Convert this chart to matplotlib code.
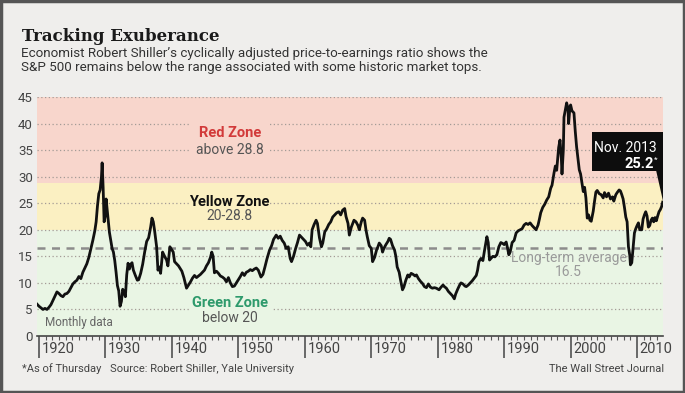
import numpy as np
import matplotlib
matplotlib.use('Agg')
import matplotlib.pyplot as plt
from matplotlib.patches import Rectangle, Polygon
from matplotlib.transforms import ScaledTranslation

plt.rcParams['font.family'] = ['Roboto', 'DejaVu Sans']

# Shiller CAPE (year, ratio)
years = [
    1919.7, 1920.0, 1920.3, 1920.6, 1920.9, 1921.2, 1921.5, 1921.8, 1922.1, 1922.4,
    1922.7, 1923.0, 1923.3, 1923.6, 1923.9, 1924.2, 1924.5, 1924.8, 1925.1, 1925.4,
    1925.7, 1926.0, 1926.3, 1926.6, 1926.9, 1927.2, 1927.5, 1927.8, 1928.1, 1928.4,
    1928.6, 1928.8, 1929.0, 1929.2, 1929.4, 1929.5, 1929.65, 1929.8, 1929.95, 1930.1,
    1930.25, 1930.4, 1930.6, 1930.8, 1931.0, 1931.2, 1931.4, 1931.6, 1931.8, 1932.0,
    1932.2, 1932.4, 1932.6, 1932.8, 1933.0, 1933.2, 1933.4, 1933.6, 1933.8, 1934.0,
    1934.2, 1934.5, 1934.8, 1935.0, 1935.3, 1935.6, 1935.9, 1936.2, 1936.5, 1936.8,
    1937.0, 1937.2, 1937.4, 1937.7, 1937.9, 1938.1, 1938.3, 1938.6, 1938.9, 1939.2,
    1939.4, 1939.7, 1940.0, 1940.2, 1940.4, 1940.7, 1941.0, 1941.2, 1941.5, 1941.8,
    1942.0, 1942.2, 1942.5, 1942.8, 1943.1, 1943.4, 1943.7, 1944.0, 1944.3, 1944.6,
    1944.9, 1945.2, 1945.5, 1945.8, 1946.0, 1946.2, 1946.4, 1946.7, 1947.0, 1947.3,
    1947.6, 1947.9, 1948.2, 1948.5, 1948.8, 1949.1, 1949.4, 1949.7, 1950.0, 1950.3,
    1950.6, 1950.9, 1951.2, 1951.5, 1951.8, 1952.1, 1952.4, 1952.7, 1953.0, 1953.4,
    1953.7, 1954.0, 1954.3, 1954.7, 1955.0, 1955.3, 1955.7, 1956.0, 1956.3, 1956.6,
    1956.9, 1957.2, 1957.5, 1957.8, 1958.0, 1958.3, 1958.6, 1958.9, 1959.2, 1959.5,
    1959.8, 1960.1, 1960.4, 1960.7, 1960.9, 1961.1, 1961.4, 1961.7, 1961.9, 1962.2,
    1962.5, 1962.7, 1963.0, 1963.3, 1963.6, 1963.9, 1964.2, 1964.5, 1964.8, 1965.1,
    1965.4, 1965.7, 1966.0, 1966.2, 1966.5, 1966.7, 1967.0, 1967.4, 1967.7, 1968.0,
    1968.2, 1968.5, 1968.7, 1969.0, 1969.2, 1969.4, 1969.7, 1970.0, 1970.2, 1970.5,
    1970.8, 1971.0, 1971.2, 1971.5, 1971.7, 1971.9, 1972.2, 1972.5, 1972.7, 1972.9,
    1973.2, 1973.5, 1973.7, 1973.9, 1974.2, 1974.4, 1974.7, 1974.9, 1975.2, 1975.5,
    1975.7, 1976.0, 1976.3, 1976.6, 1976.8, 1977.1, 1977.4, 1977.7, 1978.0, 1978.3,
    1978.6, 1978.9, 1979.2, 1979.5, 1979.8, 1980.2, 1980.5, 1980.8, 1981.0, 1981.3,
    1981.6, 1981.9, 1982.2, 1982.5, 1982.7, 1983.0, 1983.3, 1983.5, 1983.8, 1984.1,
    1984.3, 1984.6, 1984.9, 1985.2, 1985.5, 1985.8, 1986.0, 1986.2, 1986.5, 1986.8,
    1987.0, 1987.2, 1987.4, 1987.6, 1987.8, 1988.0, 1988.3, 1988.6, 1988.9, 1989.2,
    1989.5, 1989.8, 1990.0, 1990.3, 1990.5, 1990.7, 1990.9, 1991.2, 1991.5, 1991.8,
    1992.1, 1992.4, 1992.7, 1993.0, 1993.3, 1993.6, 1993.9, 1994.2, 1994.5, 1994.8,
    1995.1, 1995.3, 1995.5, 1995.8, 1996.1, 1996.4, 1996.7, 1997.0, 1997.2, 1997.5,
    1997.7, 1997.9, 1998.2, 1998.4, 1998.6, 1998.7, 1998.9, 1999.0, 1999.2, 1999.4,
    1999.6, 1999.7, 1999.9, 2000.0, 2000.2, 2000.5, 2000.7, 2000.9, 2001.1, 2001.3,
    2001.5, 2001.7, 2001.9, 2002.1, 2002.3, 2002.5, 2002.7, 2002.9, 2003.1, 2003.4,
    2003.6, 2003.8, 2004.0, 2004.3, 2004.6, 2004.9, 2005.1, 2005.4, 2005.7, 2006.0,
    2006.3, 2006.5, 2006.8, 2007.0, 2007.3, 2007.5, 2007.7, 2007.9, 2008.1, 2008.3,
    2008.5, 2008.7, 2008.9, 2009.0, 2009.2, 2009.4, 2009.6, 2009.8, 2010.0, 2010.2,
    2010.4, 2010.7, 2010.9, 2011.1, 2011.3, 2011.5, 2011.7, 2011.9, 2012.1, 2012.3,
    2012.5, 2012.7, 2012.9, 2013.1, 2013.3, 2013.5, 2013.7, 2013.85,
]
cape = [
    6.0, 5.6, 5.3, 5.0, 5.2, 5.0, 5.4, 5.9, 6.7, 7.5,
    8.3, 8.0, 7.6, 7.4, 7.9, 8.0, 8.4, 9.1, 9.8, 10.2,
    10.5, 11.2, 10.8, 12.0, 12.8, 13.6, 14.8, 16.4, 18.0, 19.8,
    21.5, 24.5, 26.8, 27.5, 30.0, 32.6, 28.0, 21.5, 22.5, 25.8,
    24.0, 22.0, 19.5, 18.0, 16.5, 15.8, 14.2, 12.0, 9.5, 8.5,
    5.6, 6.5, 8.8, 8.2, 7.4, 11.5, 13.7, 12.6, 13.5, 13.8,
    12.4, 11.4, 10.5, 10.6, 11.8, 13.5, 15.8, 17.8, 18.5, 20.5,
    22.2, 21.5, 19.8, 16.8, 12.4, 13.0, 11.8, 15.8, 15.0, 14.3,
    13.2, 16.8, 16.2, 15.8, 14.0, 13.6, 13.2, 12.8, 12.2, 11.0,
    10.0, 9.0, 9.6, 10.2, 10.9, 11.4, 11.0, 11.3, 11.6, 12.0,
    12.4, 13.2, 13.8, 14.8, 15.8, 15.0, 11.9, 12.2, 11.8, 11.3,
    11.1, 10.8, 10.2, 11.0, 10.0, 9.3, 9.4, 10.0, 10.6, 11.2,
    11.9, 11.4, 12.0, 12.2, 12.5, 12.3, 12.6, 12.8, 12.4, 11.1,
    11.6, 13.0, 14.5, 16.2, 17.0, 18.2, 19.0, 18.4, 18.8, 18.0,
    17.5, 16.5, 16.8, 14.6, 14.0, 15.0, 16.4, 17.6, 19.0, 18.6,
    18.2, 17.8, 17.1, 17.5, 16.8, 20.0, 21.0, 21.8, 21.2, 18.5,
    16.8, 17.5, 19.6, 20.2, 21.0, 21.5, 22.4, 22.8, 23.2, 23.4,
    22.8, 23.7, 24.0, 22.5, 21.2, 19.0, 20.5, 21.8, 21.5, 20.8,
    20.0, 21.5, 22.2, 21.8, 20.0, 18.7, 17.0, 16.5, 14.0, 14.8,
    16.2, 16.8, 17.5, 17.0, 15.8, 16.5, 17.2, 17.8, 18.4, 18.2,
    17.0, 16.2, 15.0, 13.0, 12.0, 10.6, 8.7, 9.2, 10.5, 11.5,
    11.1, 11.8, 11.6, 11.3, 11.5, 10.8, 10.3, 9.9, 9.3, 9.1,
    9.8, 9.2, 9.0, 9.1, 9.0, 8.7, 9.2, 9.6, 9.3, 9.0,
    8.4, 8.0, 7.6, 7.0, 7.9, 8.8, 9.6, 10.0, 9.8, 9.4,
    9.3, 9.6, 10.0, 10.4, 10.9, 11.4, 12.4, 14.0, 14.6, 14.2,
    15.8, 17.2, 18.7, 17.6, 14.3, 14.6, 15.0, 14.9, 15.3, 16.8,
    17.6, 17.4, 17.2, 17.7, 16.6, 15.3, 15.8, 17.6, 18.0, 19.4,
    19.8, 20.0, 20.2, 20.9, 21.2, 21.0, 21.3, 20.8, 20.4, 20.0,
    20.9, 22.0, 23.2, 24.2, 24.8, 25.6, 26.2, 27.8, 28.4, 30.7,
    32.0, 31.2, 35.5, 36.9, 33.5, 30.5, 35.0, 41.2, 42.5, 43.9,
    42.8, 40.0, 43.2, 43.5, 42.4, 42.0, 38.5, 35.6, 33.5, 31.3,
    30.5, 28.8, 27.2, 28.0, 26.0, 22.2, 22.8, 21.8, 21.6, 23.5,
    25.4, 27.1, 27.4, 26.8, 26.6, 26.0, 27.0, 26.2, 26.9, 25.8,
    26.2, 25.4, 26.6, 27.0, 27.5, 27.3, 26.6, 25.8, 24.2, 22.4,
    21.5, 16.8, 15.2, 13.4, 13.8, 16.5, 19.4, 20.2, 20.8, 21.3,
    20.0, 20.0, 22.0, 22.8, 23.4, 22.6, 20.5, 20.8, 21.8, 22.2,
    21.5, 22.3, 21.7, 22.6, 23.4, 23.8, 24.4, 25.2,
]

zones = [(0, 20, '#e9f5e4'), (20, 28.8, '#fbf0c2'), (28.8, 45, '#f8d6cc')]
grid_levels = [5, 10, 15, 20, 25, 30, 35, 40, 45]
long_term_avg = 16.5
decades = [1920, 1930, 1940, 1950, 1960, 1970, 1980, 1990, 2000, 2010]

W, H = 685, 393
fig = plt.figure(figsize=(W / 100, H / 100), dpi=100)
fig.patch.set_facecolor('#efeeec')
# outer frame
fig.add_artist(Rectangle((0.002, 0.003), 0.996, 0.994, transform=fig.transFigure,
                         fill=False, edgecolor='#555555', linewidth=2.5))

ax = fig.add_axes([37 / W, 1 - 336 / H, (663 - 37) / W, (336 - 97) / H])
ax.set_xlim(1919.7, 2013.9)
ax.set_ylim(0, 45)
ax.patch.set_visible(False)

for lo, hi, c in zones:
    ax.axhspan(lo, hi, color=c, zorder=0, linewidth=0)

for g in grid_levels:
    ax.axhline(g, color='#a49b96', linewidth=0.9, linestyle=(0, (1, 2)), zorder=1)

# gaps in the gridlines behind the zone labels
ax.add_patch(Rectangle((1942.7, 33.3), 11.8, 8.4, color=zones[2][2], zorder=2, linewidth=0))
ax.add_patch(Rectangle((1942.7, 23.8), 11.8, 3.0, color=zones[1][2], zorder=2, linewidth=0))
ax.add_patch(Rectangle((1942.7, 4.0), 12.3, 2.0, color=zones[0][2], zorder=2, linewidth=0))
ax.add_patch(Rectangle((1991.8, 14.0), 15.9, 1.6, color=zones[0][2], zorder=2, linewidth=0))

ax.axhline(long_term_avg, color='#8c8c8c', linewidth=1.8, linestyle=(0, (3.2, 2.6)), zorder=3)

ax.plot(years, cape, color='#111111', linewidth=2.0, zorder=5, solid_joinstyle='round')

# zone labels
ax.text(1948.7, 38.2, 'Red Zone', color='#d23a3a', fontsize=10.5, fontweight='bold',
        ha='center', va='center', zorder=6)
ax.text(1948.7, 35.0, 'above 28.8', color='#555555', fontsize=10, ha='center', va='center', zorder=6)
ax.text(1948.7, 25.2, 'Yellow Zone', color='#111111', fontsize=10.5, fontweight='bold',
        ha='center', va='center', zorder=6)
ax.text(1948.7, 22.6, '20-28.8', color='#555555', fontsize=10, ha='center', va='center', zorder=6)
ax.text(1948.7, 6.2, 'Green Zone', color='#2e9a6c', fontsize=10.5, fontweight='bold',
        ha='center', va='center', zorder=6)
ax.text(1948.7, 3.4, 'below 20', color='#555555', fontsize=10, ha='center', va='center', zorder=6)
ax.text(1920.9, 2.6, 'Monthly data', color='#666666', fontsize=8.5, ha='left', va='center', zorder=6)
ax.text(1999.7, 14.7, 'Long-term average', color='#9a9a9a', fontsize=10, ha='center', va='center', zorder=6)
ax.text(1999.7, 12.05, '16.5', color='#9a9a9a', fontsize=10, ha='center', va='center', zorder=6)

# latest value callout
ax.add_patch(Rectangle((2003.2, 31.1), 10.65, 7.3, color='#0d0d0d', zorder=7, linewidth=0))
ax.add_patch(Polygon([(2012.8, 31.2), (2013.85, 31.2), (2013.85, cape[-1] + 0.3)],
                     closed=True, color='#0d0d0d', zorder=7, linewidth=0))
ax.text(2012.9, 35.4, 'Nov. 2013', color='white', fontsize=10, ha='right', va='center', zorder=8)
ax.text(2012.5, 32.3, '%.1f' % cape[-1], color='white', fontsize=10.5, fontweight='bold',
        ha='right', va='center', zorder=8)
ax.text(2012.6, 33.2, '*', color='white', fontsize=6, ha='left', va='center', zorder=8)

# axes styling
for s in ['top', 'right', 'left']:
    ax.spines[s].set_visible(False)
ax.spines['bottom'].set_color('#444444')
ax.spines['bottom'].set_linewidth(1.2)
ax.spines['bottom'].set_zorder(6)

ax.set_yticks([0] + grid_levels)
ax.set_yticklabels([str(v) for v in [0] + grid_levels])
ax.tick_params(axis='y', length=0, pad=3, labelsize=9.5, labelcolor='#444444')

ax.set_xticks(decades)
ax.set_xticks(np.arange(1920, 2014), minor=True)
ax.set_xticklabels([str(d) for d in decades], ha='left')
ax.tick_params(axis='x', which='major', length=16, width=1.1, color='#444444',
               labelsize=10.5, labelcolor='#444444', pad=-12)
ax.tick_params(axis='x', which='minor', length=3, width=0.8, color='#555555')
off = ScaledTranslation(2.0 / 72, 0, fig.dpi_scale_trans)
for lab in ax.get_xticklabels():
    lab.set_transform(lab.get_transform() + off)

# header and footer
fig.text(22 / W, 1 - 41 / H, 'Tracking Exuberance', family='DejaVu Serif', fontweight='bold',
         fontsize=12, color='#1a1a1a', va='baseline')
fig.text(21 / W, 1 - 57 / H,
         'Economist Robert Shiller\u2019s cyclically adjusted price-to-earnings ratio shows the',
         fontsize=9.6, color='#333333', va='baseline')
fig.text(21 / W, 1 - 71.5 / H,
         'S&P 500 remains below the range associated with some historic market tops.',
         fontsize=9.6, color='#333333', va='baseline')
fig.text(22 / W, 1 - 372 / H, '*As of Thursday', fontsize=8, color='#444444', va='baseline')
fig.text(110 / W, 1 - 372 / H, 'Source: Robert Shiller, Yale University', fontsize=8,
         color='#444444', va='baseline')
fig.text(664 / W, 1 - 372 / H, 'The Wall Street Journal', fontsize=8, color='#444444',
         va='baseline', ha='right')

fig.savefig('out.png', dpi=100, facecolor=fig.get_facecolor())
